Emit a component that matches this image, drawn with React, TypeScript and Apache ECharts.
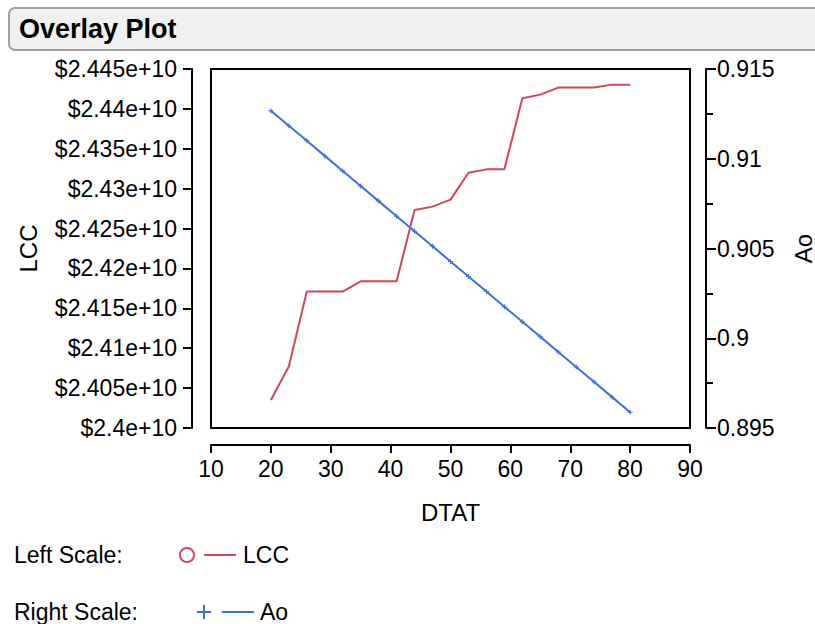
import React, { useEffect, useRef } from "react";
import * as echarts from "echarts";

const dtat = [20, 23, 26, 29, 32, 35, 38, 41, 44, 47, 50, 53, 56, 59, 62, 65, 68, 71, 74, 77, 80];
const lcc = [
  2.4035e10, 2.4077e10, 2.4171e10, 2.4171e10, 2.4171e10, 2.41838e10, 2.41838e10, 2.41838e10,
  2.42733e10, 2.42775e10, 2.42863e10, 2.432e10, 2.43242e10, 2.43242e10, 2.44133e10, 2.44179e10,
  2.44267e10, 2.44267e10, 2.44267e10, 2.44304e10, 2.44304e10,
];
const ao = [
  0.91268, 0.91184, 0.911, 0.91016, 0.90932, 0.90848, 0.90764, 0.9068, 0.90596, 0.90512, 0.90428,
  0.90344, 0.9026, 0.90176, 0.90092, 0.90008, 0.89924, 0.8984, 0.89756, 0.89672, 0.89588,
];
const xTicks = { min: 10, max: 90, interval: 10 };
const leftTicks = { min: 2.4e10, max: 2.445e10, interval: 5e7 };
const rightTicks = { min: 0.895, max: 0.915, interval: 0.005 };

const RED = "#d5455a";
const BLUE = "#3f6fdc";
const FONT = "'Liberation Sans', Arial, sans-serif";

export default function App() {
  const ref = useRef<HTMLDivElement>(null);
  useEffect(() => {
    if (!ref.current) return;
    document.documentElement.style.overflow = "hidden";
    document.body.style.margin = "0";
    document.body.style.overflow = "hidden";
    const chart = echarts.init(ref.current, null, { renderer: "svg", width: 815, height: 624 });
    const axisCommon = {
      axisLine: { show: true, lineStyle: { color: "#000", width: 2 } },
      axisTick: { show: true, length: 9, lineStyle: { color: "#000", width: 2 } },
      axisLabel: { color: "#000", fontSize: 23, fontFamily: FONT },
      splitLine: { show: false },
      nameTextStyle: { color: "#000", fontSize: 24, fontFamily: FONT },
    };
    chart.setOption({
      animation: false,
      backgroundColor: "#fff",
      textStyle: { fontFamily: FONT },
      grid: {
        left: 211,
        right: 125,
        top: 69,
        bottom: 196,
        outerBoundsMode: "none",
        containLabel: false,
        show: true,
        borderColor: "#000",
        borderWidth: 2,
        backgroundColor: "#fff",
      },
      xAxis: {
        type: "value",
        ...axisCommon,
        min: xTicks.min,
        max: xTicks.max,
        interval: xTicks.interval,
        position: "bottom",
        offset: 17,
        axisTick: { show: true, length: 8, lineStyle: { color: "#000", width: 2 } },
        axisLabel: { ...axisCommon.axisLabel, margin: 12 },
        name: "DTAT",
        nameLocation: "middle",
        nameGap: 55,
      },
      yAxis: [
        {
          type: "value",
          ...axisCommon,
          min: leftTicks.min,
          max: leftTicks.max,
          interval: leftTicks.interval,
          position: "left",
          offset: 19,
          axisLabel: {
            ...axisCommon.axisLabel,
            margin: 15,
            formatter: (v: number) => "$" + Number(v.toPrecision(6)).toExponential(),
          },
          name: "LCC",
          nameLocation: "middle",
          nameRotate: 90,
          nameGap: 152,
        },
        {
          type: "value",
          ...axisCommon,
          min: rightTicks.min,
          max: rightTicks.max,
          interval: rightTicks.interval,
          position: "right",
          offset: 16,
          axisTick: { show: true, length: 10, lineStyle: { color: "#000", width: 2 } },
          minorTick: { show: true, splitNumber: 2, length: 7, lineStyle: { color: "#000", width: 2 } },
          axisLabel: {
            ...axisCommon.axisLabel,
            margin: 11,
            formatter: (v: number) => String(Number(v.toFixed(4))),
          },
          name: "Ao",
          nameLocation: "middle",
          nameRotate: 90,
          nameGap: 85,
        },
      ],
      series: [
        {
          name: "LCC",
          type: "line",
          yAxisIndex: 0,
          data: dtat.map((x, i) => [x, lcc[i]]),
          showSymbol: false,
          lineStyle: { color: RED, width: 2 },
          itemStyle: { color: RED },
        },
        {
          name: "Ao",
          type: "line",
          yAxisIndex: 1,
          data: dtat.map((x, i) => [x, ao[i]]),
          symbol: "path://M2,0H3V2H5V3H3V5H2V3H0V2H2Z",
          symbolSize: 5,
          showSymbol: true,
          showAllSymbol: true,
          lineStyle: { color: BLUE, width: 2 },
          itemStyle: { color: BLUE },
        },
      ],
      graphic: [
        {
          type: "rect",
          shape: { x: 9, y: 8, width: 840, height: 42, r: 6 },
          style: { fill: "#f0f0f0", stroke: "#a0a0a0", lineWidth: 2 },
        },
        {
          type: "text",
          x: 19,
          y: 29,
          style: {
            text: "Overlay Plot",
            fill: "#000",
            font: `bold 27px ${FONT}`,
            textVerticalAlign: "middle",
          },
        },
        {
          type: "text",
          x: 14,
          y: 555,
          style: { text: "Left Scale:", fill: "#000", font: `23px ${FONT}`, textVerticalAlign: "middle" },
        },
        {
          type: "circle",
          shape: { cx: 187, cy: 555, r: 7 },
          style: { fill: "none", stroke: RED, lineWidth: 2 },
        },
        {
          type: "line",
          shape: { x1: 204, y1: 555, x2: 236, y2: 555 },
          style: { stroke: RED, lineWidth: 2 },
        },
        {
          type: "text",
          x: 243,
          y: 555,
          style: { text: "LCC", fill: "#000", font: `23px ${FONT}`, textVerticalAlign: "middle" },
        },
        {
          type: "text",
          x: 14,
          y: 612,
          style: { text: "Right Scale:", fill: "#000", font: `23px ${FONT}`, textVerticalAlign: "middle" },
        },
        {
          type: "line",
          shape: { x1: 197, y1: 612, x2: 211, y2: 612 },
          style: { stroke: BLUE, lineWidth: 2 },
        },
        {
          type: "line",
          shape: { x1: 204, y1: 605, x2: 204, y2: 619 },
          style: { stroke: BLUE, lineWidth: 2 },
        },
        {
          type: "line",
          shape: { x1: 222, y1: 612, x2: 254, y2: 612 },
          style: { stroke: BLUE, lineWidth: 2 },
        },
        {
          type: "text",
          x: 260,
          y: 612,
          style: { text: "Ao", fill: "#000", font: `23px ${FONT}`, textVerticalAlign: "middle" },
        },
      ],
    });
    return () => chart.dispose();
  }, []);
  return (
    <div
      ref={ref}
      style={{ position: "fixed", left: 0, top: 0, width: 815, height: 624 }}
    />
  );
}
